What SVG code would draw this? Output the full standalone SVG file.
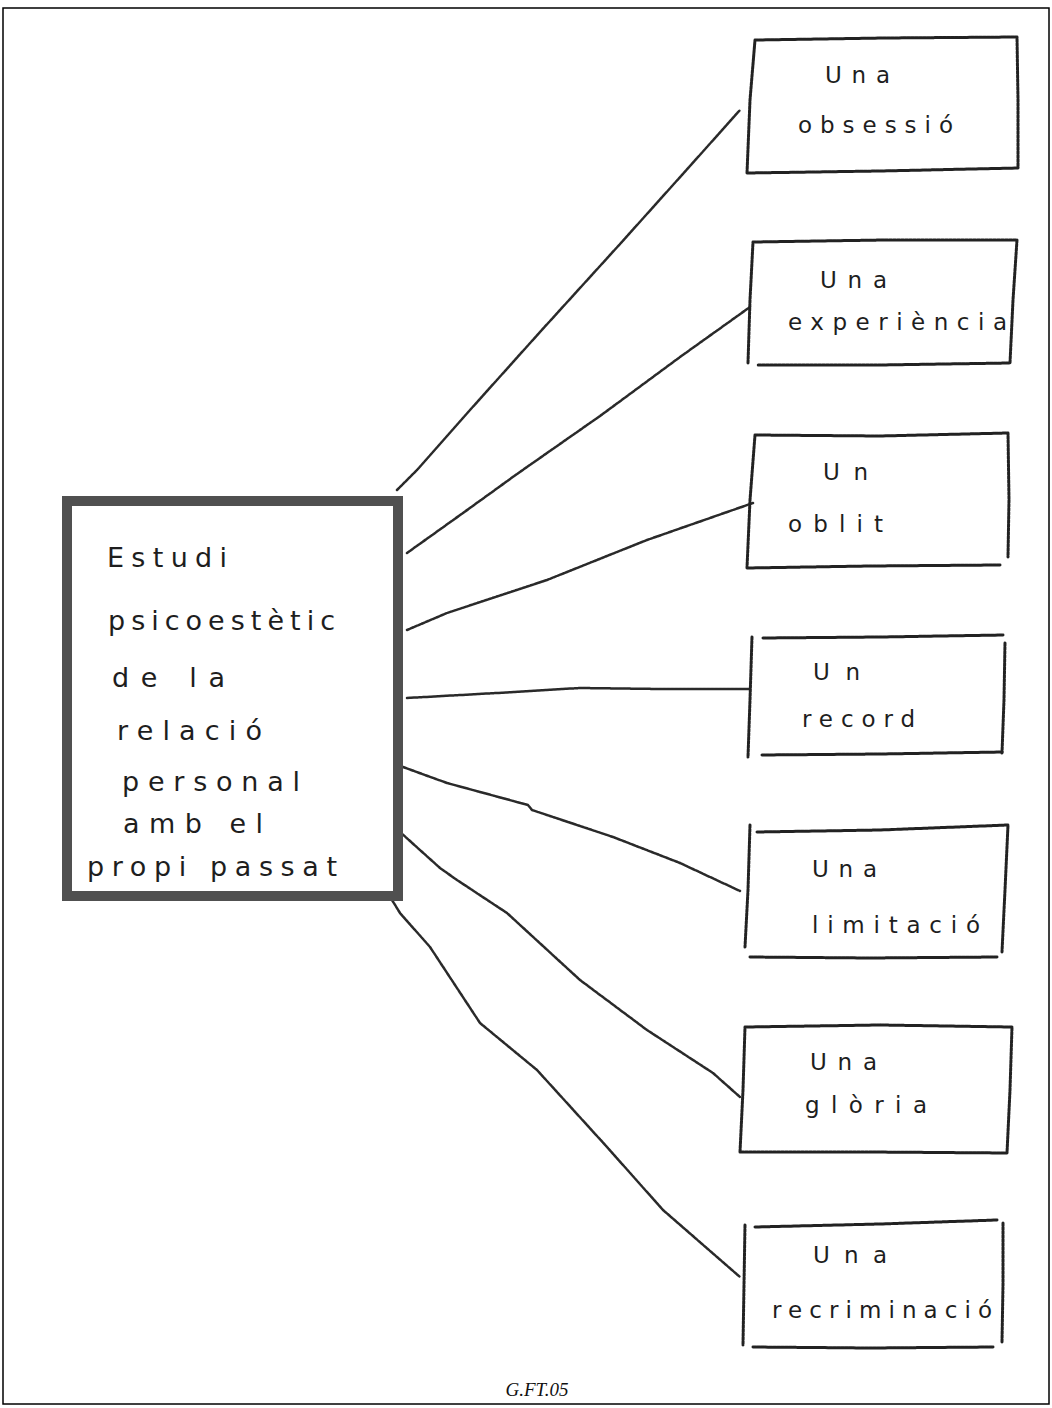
<svg xmlns="http://www.w3.org/2000/svg" width="1052" height="1408" viewBox="0 0 1052 1408">
<style>
  .bg{fill:#ffffff}
  .frame{fill:none;stroke:#000;stroke-width:1.5}
  .main{fill:none;stroke:#505050;stroke-width:10;stroke-linejoin:miter}
  .box{fill:none;stroke:#222;stroke-width:3;stroke-linejoin:round;stroke-linecap:round;stroke-dasharray:3 1}
  .conn{fill:none;stroke:#2a2a2a;stroke-width:2.5;stroke-linejoin:round;stroke-linecap:round;stroke-dasharray:3 1}
  .hw{font-family:"DejaVu Sans","Liberation Sans",sans-serif;fill:#1e1e1e}
  .c{font-size:27px}
  .r{font-size:23px}
  .cap{font-family:"Liberation Serif",serif;font-style:italic;font-size:19px;fill:#111}
</style>
<rect class="bg" x="0" y="0" width="1052" height="1408"/>
<rect class="frame" x="3" y="8" width="1046" height="1396"/>

<g id="connectors">
  <path class="conn" d="M397,490 L417,470 L470,410 L540,332 L620,244 L690,166 L740,110"/>
  <path class="conn" d="M407,553 L463,513 L517,474 L600,416 L680,357 L750,307"/>
  <path class="conn" d="M407,630 L447,613 L547,580 L647,540 L753,503"/>
  <path class="conn" d="M407,698 L497,693 L580,688 L660,689 L750,689"/>
  <path class="conn" d="M403,767 L447,783 L528,805 L532,810 L613,837 L680,863 L740,891"/>
  <path class="conn" d="M400,832 L440,868 L457,880 L507,913 L580,980 L647,1030 L713,1073 L740,1097"/>
  <path class="conn" d="M392,900 L400,913 L430,947 L480,1023 L537,1070 L607,1147 L663,1210 L740,1277"/>
</g>

<g id="center">
  <rect class="main" x="67" y="501" width="331" height="395"/>
  <text class="hw c" x="107" y="567" textLength="120" lengthAdjust="spacing">Estudi</text>
  <text class="hw c" x="108" y="630" textLength="227" lengthAdjust="spacing">psicoestètic</text>
  <text class="hw c" x="112" y="687" textLength="113" lengthAdjust="spacing">de la</text>
  <text class="hw c" x="117" y="740" textLength="145" lengthAdjust="spacing">relació</text>
  <text class="hw c" x="122" y="791" textLength="178" lengthAdjust="spacing">personal</text>
  <text class="hw c" x="123" y="833" textLength="140" lengthAdjust="spacing">amb el</text>
  <text class="hw c" x="87" y="876" textLength="250" lengthAdjust="spacing">propi passat</text>
</g>

<g id="n1">
  <path class="box" d="M755,40 L885,38 L1017,37 L1018,100 L1018,168 L880,171 L747,173 L750,100 Z"/>
  <text class="hw r" x="825" y="83" textLength="65" lengthAdjust="spacing">Una</text>
  <text class="hw r" x="798" y="133" textLength="155" lengthAdjust="spacing">obsessió</text>
</g>

<g id="n2">
  <path class="box" d="M753,242 L885,240 L1017,240 L1013,300 L1010,363 L880,365 L758,365 M748,363 L750,300 L753,242"/>
  <text class="hw r" x="820" y="288" textLength="67" lengthAdjust="spacing">Una</text>
  <text class="hw r" x="788" y="330" textLength="219" lengthAdjust="spacing">experiència</text>
</g>

<g id="n3">
  <path class="box" d="M755,435 L880,436 L1008,433 L1009,500 L1008,557 M1000,565 L870,566 L747,568 L750,500 L755,435"/>
  <text class="hw r" x="823" y="480" textLength="45" lengthAdjust="spacing">Un</text>
  <text class="hw r" x="788" y="532" textLength="95" lengthAdjust="spacing">oblit</text>
</g>

<g id="n4">
  <path class="box" d="M752,637 L750,700 L748,757"/>
  <path class="box" d="M763,638 L880,637 L1003,635"/>
  <path class="box" d="M1005,643 L1004,700 L1002,753"/>
  <path class="box" d="M762,755 L880,754 L1002,752"/>
  <text class="hw r" x="813" y="680" textLength="47" lengthAdjust="spacing">Un</text>
  <text class="hw r" x="802" y="727" textLength="113" lengthAdjust="spacing">record</text>
</g>

<g id="n5">
  <path class="box" d="M750,825 L748,890 L745,947"/>
  <path class="box" d="M757,832 L880,830 L1008,825 L1005,890 L1002,952"/>
  <path class="box" d="M750,957 L870,958 L997,957"/>
  <text class="hw r" x="812" y="877" textLength="65" lengthAdjust="spacing">Una</text>
  <text class="hw r" x="812" y="933" textLength="168" lengthAdjust="spacing">limitació</text>
</g>

<g id="n6">
  <path class="box" d="M745,1027 L880,1025 L1012,1027 L1010,1090 L1007,1153 L870,1152 L740,1152 L743,1090 Z"/>
  <text class="hw r" x="810" y="1070" textLength="67" lengthAdjust="spacing">Una</text>
  <text class="hw r" x="805" y="1113" textLength="122" lengthAdjust="spacing">glòria</text>
</g>

<g id="n7">
  <path class="box" d="M745,1225 L744,1285 L743,1345"/>
  <path class="box" d="M755,1227 L880,1224 L997,1220"/>
  <path class="box" d="M1003,1223 L1003,1285 L1002,1342"/>
  <path class="box" d="M753,1347 L870,1348 L993,1347"/>
  <text class="hw r" x="813" y="1263" textLength="74" lengthAdjust="spacing">Una</text>
  <text class="hw r" x="772" y="1318" textLength="220" lengthAdjust="spacing">recriminació</text>
</g>

<text class="cap" x="537" y="1396" text-anchor="middle">G.FT.05</text>
</svg>
